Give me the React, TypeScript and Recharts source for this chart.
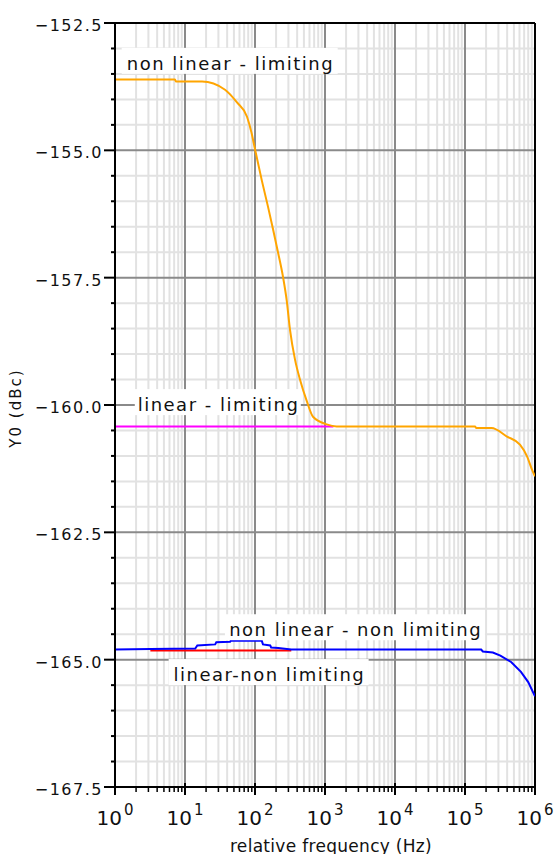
import React from 'react';
import { LineChart, Line, XAxis, YAxis, ReferenceLine, ReferenceDot } from 'recharts';

const FONT = '"DejaVu Sans", Verdana, sans-serif';

// ---- tick definitions ----
const xMajorTicks = [1, 10, 100, 1000, 10000, 100000, 1000000];
const xMinorMultipliers = [2, 3, 4, 5, 6, 7, 8, 9];
const yMajorTicks = [-167.5, -165, -162.5, -160, -157.5, -155, -152.5];
const yMinorTicks = [
  -167, -166.5, -166, -165.5, -164.5, -164, -163.5, -163, -162, -161.5, -161, -160.5,
  -159.5, -159, -158.5, -158, -157, -156.5, -156, -155.5, -154.5, -154, -153.5, -153,
];

// ---- series (relative frequency Hz, Y0 dBc) ----
const nonLinearLimiting = [
  { f: 1, v: -153.61 }, { f: 7.2, v: -153.61 }, { f: 7.4, v: -153.65 }, { f: 17.5, v: -153.65 },
  { f: 37.3, v: -153.81 }, { f: 55.3, v: -154.06 }, { f: 76.9, v: -154.34 }, { f: 89, v: -154.65 },
  { f: 100, v: -154.98 }, { f: 126, v: -155.61 }, { f: 153, v: -156.1 }, { f: 181, v: -156.55 },
  { f: 213, v: -157.0 }, { f: 251, v: -157.48 }, { f: 284, v: -157.95 }, { f: 316, v: -158.52 },
  { f: 373, v: -159.11 }, { f: 439, v: -159.5 }, { f: 548, v: -159.92 }, { f: 674, v: -160.23 },
  { f: 1057, v: -160.38 }, { f: 1469, v: -160.42 },
  { f: 139000, v: -160.42 }, { f: 145000, v: -160.45 }, { f: 240000, v: -160.45 }, { f: 398000, v: -160.62 },
  { f: 610000, v: -160.78 }, { f: 770000, v: -161.01 }, { f: 906000, v: -161.27 }, { f: 1000000, v: -161.4 },
];
const linearLimiting = [
  { f: 1, v: -160.42 }, { f: 1320, v: -160.42 },
];
const nonLinearNonLimiting = [
  { f: 1, v: -164.8 }, { f: 3.2, v: -164.79 }, { f: 14, v: -164.78 }, { f: 15, v: -164.72 },
  { f: 27, v: -164.7 }, { f: 28, v: -164.66 }, { f: 44, v: -164.65 }, { f: 45, v: -164.63 },
  { f: 125, v: -164.63 }, { f: 130, v: -164.7 }, { f: 165, v: -164.72 }, { f: 170, v: -164.76 },
  { f: 215, v: -164.77 }, { f: 330, v: -164.8 }, { f: 170000, v: -164.8 }, { f: 180000, v: -164.84 },
  { f: 250000, v: -164.86 }, { f: 320000, v: -164.92 }, { f: 460000, v: -165.05 }, { f: 630000, v: -165.24 },
  { f: 800000, v: -165.44 }, { f: 1000000, v: -165.72 },
];
const linearNonLimiting = [
  { f: 3.2, v: -164.82 }, { f: 330, v: -164.82 },
];

// ---- annotations ----
const annotationTexts = ['non linear - limiting', 'linear - limiting', 'non linear - non limiting', 'linear-non limiting'];
const annotationFreqs = [43.5, 29.4, 2675, 156.6];
const annotationValues = [-153.42, -160.12, -164.54, -165.42];
const annotationBoxWidths = [216, 166, 260, 200];

const xAllTicks: number[] = [];
xMajorTicks.forEach((m, i) => {
  xAllTicks.push(m);
  if (i < xMajorTicks.length - 1) xMinorMultipliers.forEach((k) => xAllTicks.push(k * m));
});
const xMinorTicks = xAllTicks.filter((t) => !xMajorTicks.includes(t));
const yAllTicks = [...yMajorTicks, ...yMinorTicks].sort((a, b) => a - b);

const XTick = (props: any) => {
  const { x, y, payload } = props;
  const val = payload.value;
  const isMajor = xMajorTicks.includes(val);
  if (!isMajor) {
    return <line x1={x} x2={x} y1={y} y2={y + 5} stroke="#000" strokeWidth={1.5} />;
  }
  const exp = Math.round(Math.log10(val));
  return (
    <g>
      <line x1={x} x2={x} y1={y - 4} y2={y + 8} stroke="#000" strokeWidth={2} />
      <text x={x} y={y + 38} textAnchor="middle" fontSize={20} fill="#111" fontFamily={FONT}>
        <tspan>10</tspan>
        <tspan dx={2} dy={-10} fontSize={15}>{exp}</tspan>
      </text>
    </g>
  );
};

const YTick = (props: any) => {
  const { x, y, payload } = props;
  const val = payload.value;
  const isMajor = yMajorTicks.includes(val);
  if (!isMajor) {
    return <line x1={x - 4} x2={x} y1={y} y2={y} stroke="#000" strokeWidth={2} />;
  }
  const label = val.toFixed(1).replace('-', '\u2212');
  return (
    <g>
      <line x1={x - 11} x2={x + 1} y1={y} y2={y} stroke="#000" strokeWidth={2} />
      <text x={x - 12} y={y + 8} textAnchor="end" fontSize={16} letterSpacing={1.5} fill="#111" fontFamily={FONT}>
        {label}
      </text>
    </g>
  );
};

const XTitle = (props: any) => {
  const vb = props.viewBox || {};
  return (
    <text x={vb.x + vb.width / 2 + 6} y={vb.y + vb.height - 2} textAnchor="middle" fontSize={17} letterSpacing={0.3} fill="#111" fontFamily={FONT}>
      relative frequency (Hz)
    </text>
  );
};

const YTitle = (props: any) => {
  const vb = props.viewBox || {};
  const cx = 21;
  const cy = vb.y + vb.height / 2 + 3;
  return (
    <text x={cx} y={cy} transform={`rotate(-90 ${cx} ${cy})`} textAnchor="middle" fontSize={15} letterSpacing={2} fill="#111" fontFamily={FONT}>
      Y0 (dBc)
    </text>
  );
};

const makeBox = (text: string, w: number) => (p: any) => {
  const { cx, cy } = p;
  if (cx == null || cy == null) return <g />;
  return (
    <g>
      <rect x={cx - w / 2} y={cy - 22} width={w} height={26} fill="#fff" />
      <text x={cx + 0.75} y={cy} textAnchor="middle" fontSize={18} letterSpacing={1.5} fill="#111" fontFamily={FONT}>
        {text}
      </text>
    </g>
  );
};

export default function App() {
  return (
    <div style={{ position: 'absolute', left: 0, top: 0, width: 555, height: 854, background: '#fff' }}>
      <LineChart width={555} height={854} margin={{ top: 23, right: 20, left: 0, bottom: 0 }}>
        <XAxis
          type="number"
          dataKey="f"
          scale="log"
          domain={[1, 1000000]}
          ticks={xAllTicks}
          interval={0}
          tick={<XTick />}
          tickLine={false}
          tickSize={0}
          tickMargin={0}
          axisLine={{ stroke: '#000', strokeWidth: 2 }}
          allowDataOverflow
          height={67}
          label={<XTitle />}
        />
        <YAxis
          type="number"
          domain={[-167.5, -152.5]}
          ticks={yAllTicks}
          interval={0}
          tick={<YTick />}
          tickLine={false}
          tickSize={0}
          tickMargin={0}
          axisLine={{ stroke: '#000', strokeWidth: 2 }}
          allowDataOverflow
          width={115}
          label={<YTitle />}
        />
        {yMinorTicks.map((t) => (
          <ReferenceLine key={'ym' + t} y={t} stroke="#e2e2e2" strokeWidth={2} />
        ))}
        {xMinorTicks.map((t) => (
          <ReferenceLine key={'xm' + t} x={t} stroke="#e2e2e2" strokeWidth={2} />
        ))}
        {yMajorTicks.slice(1, -1).map((t) => (
          <ReferenceLine key={'yM' + t} y={t} stroke="#8a8a8a" strokeWidth={2} />
        ))}
        {xMajorTicks.slice(1, -1).map((t) => (
          <ReferenceLine key={'xM' + t} x={t} stroke="#8a8a8a" strokeWidth={2} />
        ))}
        <ReferenceLine y={-152.5} stroke="#000" strokeWidth={2} />
        <ReferenceLine x={1000000} stroke="#000" strokeWidth={2} />
        {annotationTexts.map((t, i) => (
          <ReferenceDot
            key={'ann' + i}
            x={annotationFreqs[i]}
            y={annotationValues[i]}
            r={0}
            ifOverflow="visible"
            shape={makeBox(t, annotationBoxWidths[i])}
          />
        ))}
        <Line data={linearLimiting} dataKey="v" type="linear" stroke="#ff00ff" strokeWidth={2} dot={false} isAnimationActive={false} />
        <Line data={nonLinearLimiting} dataKey="v" type="monotoneX" stroke="#ffa500" strokeWidth={2} dot={false} isAnimationActive={false} />
        <Line data={linearNonLimiting} dataKey="v" type="linear" stroke="#ff0000" strokeWidth={2} dot={false} isAnimationActive={false} />
        <Line data={nonLinearNonLimiting} dataKey="v" type="linear" stroke="#0000ff" strokeWidth={2} dot={false} isAnimationActive={false} />
      </LineChart>
    </div>
  );
}
